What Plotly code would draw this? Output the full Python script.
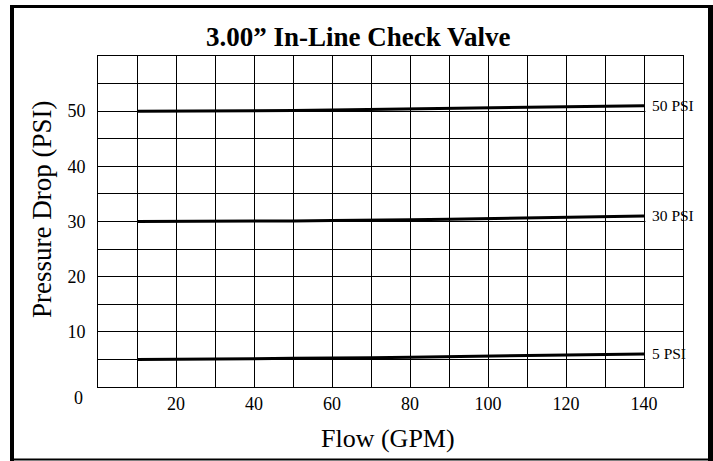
import plotly.graph_objects as go

flow = [10, 20, 30, 40, 50, 60, 70, 80, 90, 100, 110, 120, 130, 140]
psi50 = [50.0, 50.0, 50.0, 50.1, 50.1, 50.2, 50.3, 50.4, 50.5, 50.6, 50.7, 50.8, 50.9, 51.0]
psi30 = [30.0, 30.0, 30.0, 30.0, 30.1, 30.2, 30.2, 30.3, 30.4, 30.5, 30.6, 30.7, 30.8, 31.0]
psi5 = [5.0, 5.0, 5.0, 5.1, 5.2, 5.2, 5.3, 5.4, 5.5, 5.6, 5.7, 5.8, 5.9, 6.0]
series = [("50 PSI", psi50), ("30 PSI", psi30), ("5 PSI", psi5)]

x_tickvals = [10, 20, 30, 40, 50, 60, 70, 80, 90, 100, 110, 120, 130, 140]
x_ticktext = ["", "20", "", "40", "", "60", "", "80", "", "100", "", "120", "", "140"]
y_tickvals = [5, 10, 15, 20, 25, 30, 35, 40, 45, 50, 55]
y_ticktext = ["", "10", "", "20", "", "30", "", "40", "", "50", ""]

SERIF = "Liberation Serif, Times New Roman, serif"
W, H = 713, 461
L, R, T, B = 98, 30, 56, 74
PW, PH = W - L - R, H - T - B

def px(x):
    return (x - L) / PW

def py(y):
    return (H - B - y) / PH

fig = go.Figure()
for name, vals in series:
    fig.add_trace(go.Scatter(x=flow, y=vals, mode="lines", name=name,
                             line=dict(color="black", width=3), showlegend=False))

shapes = []
# gaps in right frame where labels sit
for name, vals in series:
    base = vals[0]
    shapes.append(dict(type="rect", xref="x", yref="y", x0=140.35, x1=152,
                       y0=base - 2.5, y1=base + 4.85, fillcolor="white",
                       line=dict(width=0), layer="above"))
# outer border
shapes += [
    dict(type="rect", xref="paper", yref="paper", x0=px(10), x1=px(14), y0=py(461), y1=py(5),
         fillcolor="black", line=dict(width=0)),
    dict(type="rect", xref="paper", yref="paper", x0=px(10), x1=px(713), y0=py(8), y1=py(5),
         fillcolor="black", line=dict(width=0)),
    dict(type="rect", xref="paper", yref="paper", x0=px(708), x1=px(713), y0=py(461), y1=py(5),
         fillcolor="black", line=dict(width=0)),
    dict(type="rect", xref="paper", yref="paper", x0=px(10), x1=px(713), y0=py(460.5), y1=py(458.5),
         fillcolor="black", line=dict(width=0)),
]

annotations = []
for name, vals in series:
    annotations.append(dict(x=140, y=vals[-1], xref="x", yref="y", text=name, showarrow=False,
                            xanchor="left", yanchor="middle", xshift=6,
                            font=dict(family=SERIF, size=15.5, color="black")))
annotations.append(dict(x=px(78), y=py(398), xref="paper", yref="paper", text="0", showarrow=False,
                        xanchor="center", yanchor="middle",
                        font=dict(family=SERIF, size=18, color="black")))
annotations.append(dict(x=px(42), y=py(210), xref="paper", yref="paper", text="Pressure Drop (PSI)",
                        showarrow=False, textangle=-90, xanchor="center", yanchor="middle",
                        font=dict(family=SERIF, size=27, color="black")))
annotations.append(dict(x=px(388), y=py(438), xref="paper", yref="paper", text="Flow (GPM)",
                        showarrow=False, xanchor="center", yanchor="middle",
                        font=dict(family=SERIF, size=26, color="black")))

fig.update_layout(
    width=W, height=H,
    margin=dict(l=L, r=R, t=T, b=B),
    paper_bgcolor="white", plot_bgcolor="white",
    font=dict(family=SERIF, color="black"),
    title=dict(text="<b>3.00\u201d In-Line Check Valve</b>", x=px(392), xanchor="center",
               y=1 - 37 / H, yanchor="middle", font=dict(family=SERIF, size=27, color="black")),
    xaxis=dict(range=[0, 150], tickvals=x_tickvals, ticktext=x_ticktext, showgrid=True,
               gridcolor="black", gridwidth=1, zeroline=False, showline=True, linecolor="black",
               linewidth=1, mirror=True, ticks="", ticklabelstandoff=0,
               tickfont=dict(family=SERIF, size=18, color="black")),
    yaxis=dict(range=[0, 60], tickvals=y_tickvals, ticktext=y_ticktext, showgrid=True,
               gridcolor="black", gridwidth=1, zeroline=False, showline=True, linecolor="black",
               linewidth=1, mirror=True, ticks="", ticklabelstandoff=8,
               tickfont=dict(family=SERIF, size=18, color="black")),
    shapes=shapes,
    annotations=annotations,
)

fig.write_html("out.html", config={"displayModeBar": False},
               post_script="document.body.style.margin='0';document.body.style.overflow='hidden';")
